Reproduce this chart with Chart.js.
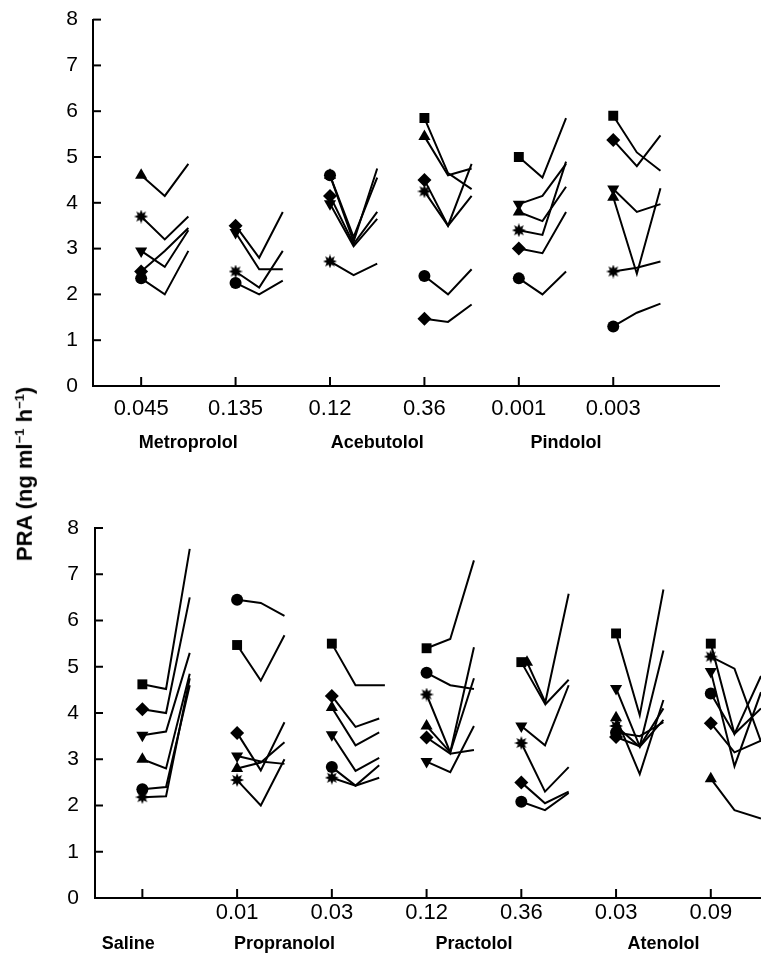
<!DOCTYPE html>
<html lang="en">
<head>
  <meta charset="UTF-8">
  <title>PRA after beta-blockers</title>
  <script src="https://cdn.jsdelivr.net/npm/chart.js"></script>
  <style>
    body {
      margin: 0;
      background: #fff;
      font-family: 'Liberation Sans', Arial, sans-serif;
    }
    .panel {
      position: absolute;
      left: 0;
      width: 761px;
    }
    #topPanel { top: 0; height: 470px; }
    #bottomPanel { top: 480px; height: 474px; }
    .ytitle {
      position: absolute;
      left: 25px;
      top: 474px;
      transform: translate(-50%, -50%) rotate(-90deg);
      white-space: nowrap;
      font-size: 22px;
      font-weight: bold;
      color: #000;
    }
    .ytitle sup { font-size: 13px; }
  </style>
</head>
<body>
  <div class="panel" id="topPanel"><canvas id="topChart"></canvas></div>
  <div class="panel" id="bottomPanel"><canvas id="bottomChart"></canvas></div>
  <div class="ytitle">PRA (ng ml<sup>−1</sup> h<sup>−1</sup>)</div>

  <script>
    // dose labels under each tick, and the drugs that own them
    const topDoses = ['0.045', '0.135', '0.12', '0.36', '0.001', '0.003'];
    const topDrugs = ['Metroprolol', 'Acebutolol', 'Pindolol'];
    const topDrugTicks = [[0, 1], [2, 3], [4, 5]];

    const bottomDoses = ['', '0.01', '0.03', '0.12', '0.36', '0.03', '0.09'];
    const bottomDrugs = ['Saline', 'Propranolol', 'Practolol', 'Atenolol'];
    const bottomDrugTicks = [[0], [1, 2], [3, 4], [5, 6]];

    const yTicks = [0, 1, 2, 3, 4, 5, 6, 7, 8];

    // three samples after each dose
    const timeOffsets = [0, 0.25, 0.5];

    // PRA values per subject: [at dose, mid, end]
    const mtp045 = [[4.6, 4.15, 4.85], [3.7, 3.2, 3.7], [2.95, 2.6, 3.4], [2.5, 2.95, 3.45], [2.35, 2.0, 2.95]];
    const mtp045Sym = ['tri', 'star', 'inv', 'dia', 'cir'];
    const mtp135 = [[3.5, 2.8, 3.8], [3.35, 2.55, 2.55], [2.5, 2.15, 2.95], [2.25, 2.0, 2.3]];
    const mtp135Sym = ['dia', 'inv', 'star', 'cir'];
    const ace012 = [[4.6, 3.15, 4.75], [4.6, 3.25, 4.55], [4.15, 3.1, 3.8], [3.98, 3.05, 3.65], [2.72, 2.42, 2.67]];
    const ace012Sym = ['cir', 'tri', 'dia', 'inv', 'star'];
    const ace036 = [[5.85, 4.65, 4.3], [5.45, 4.6, 4.75], [4.5, 3.5, 4.85], [4.25, 3.5, 4.15], [2.4, 2.0, 2.55], [1.47, 1.4, 1.78]];
    const ace036Sym = ['sq', 'tri', 'dia', 'star', 'cir', 'dia'];
    const pin001 = [[5.0, 4.55, 5.85], [3.97, 4.15, 4.85], [3.8, 3.6, 4.35], [3.4, 3.3, 4.9], [3.0, 2.9, 3.8], [2.35, 2.0, 2.5]];
    const pin001Sym = ['sq', 'inv', 'tri', 'star', 'dia', 'cir'];
    const pin003 = [[5.9, 5.1, 4.7], [5.37, 4.8, 5.47], [4.3, 3.8, 3.97], [4.12, 2.45, 4.32], [2.5, 2.58, 2.72], [1.3, 1.6, 1.8]];
    const pin003Sym = ['sq', 'dia', 'inv', 'tri', 'star', 'cir'];

    const saline = [[4.62, 4.52, 7.55], [4.08, 4.0, 6.5], [3.52, 3.6, 5.3], [3.0, 2.8, 4.85], [2.35, 2.4, 4.6], [2.18, 2.2, 4.75]];
    const salineSym = ['sq', 'dia', 'inv', 'tri', 'cir', 'star'];
    const pro001 = [[6.45, 6.38, 6.1], [5.47, 4.7, 5.68], [3.57, 2.76, 3.8], [3.07, 2.95, 2.9], [2.8, 2.93, 3.37], [2.55, 2.0, 3.0]];
    const pro001Sym = ['cir', 'sq', 'dia', 'inv', 'tri', 'star'];
    const pro003 = [[5.5, 4.6, 4.6], [4.37, 3.7, 3.88], [4.12, 3.3, 3.58], [3.53, 2.75, 3.03], [2.83, 2.43, 2.87], [2.6, 2.43, 2.6]];
    const pro003Sym = ['sq', 'dia', 'tri', 'inv', 'cir', 'star'];
    const prac012 = [[5.4, 5.6, 7.3], [4.87, 4.6, 4.52], [4.4, 3.15, 5.42], [3.72, 3.15, 4.75], [3.47, 3.12, 3.2], [2.95, 2.72, 3.72]];
    const prac012Sym = ['sq', 'cir', 'star', 'tri', 'dia', 'inv'];
    const prac036 = [[5.1, 4.2, 6.58], [5.1, 4.2, 4.72], [3.72, 3.3, 4.6], [3.35, 2.3, 2.83], [2.5, 2.05, 2.3], [2.08, 1.9, 2.27]];
    const prac036Sym = ['sq', 'tri', 'inv', 'star', 'dia', 'cir'];
    const ate003 = [[5.72, 3.95, 6.67], [4.53, 3.28, 5.35], [3.9, 2.68, 4.28], [3.72, 3.27, 3.85], [3.58, 3.5, 3.8], [3.48, 3.28, 4.1]];
    const ate003Sym = ['sq', 'inv', 'tri', 'star', 'cir', 'dia'];
    const ate009 = [[5.5, 3.55, 4.8], [5.22, 4.96, 3.38], [4.9, 2.85, 4.45], [4.42, 3.55, 4.1], [3.78, 3.15, 3.4], [2.58, 1.9, 1.72]];
    const ate009Sym = ['sq', 'star', 'inv', 'cir', 'dia', 'tri'];

    // a few traces sit slightly off the standard sample times
    const pro003Times = { 0: [0, 0.25, 0.56] };
    const prac036Times = { 1: [0.06, 0.26, 0.5] };
    const ate009Times = [0, 0.25, 0.53];

    const topGroups = [
      { tick: 0, rows: mtp045, sym: mtp045Sym },
      { tick: 1, rows: mtp135, sym: mtp135Sym },
      { tick: 2, rows: ace012, sym: ace012Sym },
      { tick: 3, rows: ace036, sym: ace036Sym },
      { tick: 4, rows: pin001, sym: pin001Sym },
      { tick: 5, rows: pin003, sym: pin003Sym }
    ];
    const bottomGroups = [
      { tick: 0, rows: saline, sym: salineSym },
      { tick: 1, rows: pro001, sym: pro001Sym },
      { tick: 2, rows: pro003, sym: pro003Sym, times: pro003Times },
      { tick: 3, rows: prac012, sym: prac012Sym },
      { tick: 4, rows: prac036, sym: prac036Sym, times: prac036Times },
      { tick: 5, rows: ate003, sym: ate003Sym },
      { tick: 6, rows: ate009, sym: ate009Sym, allTimes: ate009Times }
    ];

    const FONT = "'Liberation Sans', Arial, sans-serif";

    // filled 8-point star marker
    function makeStar() {
      const c = document.createElement('canvas');
      c.width = 14; c.height = 14;
      const g = c.getContext('2d');
      g.fillStyle = '#000';
      g.beginPath();
      for (let i = 0; i < 16; i++) {
        const r = i % 2 === 0 ? 7 : 3.6;
        const a = i * Math.PI / 8 - Math.PI / 2;
        const px = 7 + r * Math.cos(a), py = 7 + r * Math.sin(a);
        if (i === 0) g.moveTo(px, py); else g.lineTo(px, py);
      }
      g.closePath();
      g.fill();
      return c;
    }
    const starImg = makeStar();

    const markers = {
      cir: { style: 'circle', r: 6, rot: 0 },
      sq: { style: 'rect', r: 7, rot: 0 },
      dia: { style: 'rectRot', r: 7, rot: 0 },
      tri: { style: 'triangle', r: 7, rot: 0 },
      inv: { style: 'triangle', r: 7, rot: 180 },
      star: { style: starImg, r: 7, rot: 0 }
    };

    function buildDatasets(groups) {
      const out = [];
      groups.forEach(g => {
        g.rows.forEach((vals, r) => {
          const times = (g.times && g.times[r]) || g.allTimes || timeOffsets;
          const m = markers[g.sym[r]];
          out.push({
            data: vals.map((v, k) => ({ x: g.tick + times[k], y: v })),
            borderColor: '#000',
            borderWidth: 2,
            tension: 0,
            pointStyle: m.style,
            pointRotation: m.rot,
            pointRadius: [m.r, 0, 0],
            pointHoverRadius: 0,
            pointBackgroundColor: '#000',
            pointBorderColor: '#000',
            pointBorderWidth: 0
          });
        });
      });
      return out;
    }

    // inward tick marks, dose labels and drug names
    const axisDecor = {
      id: 'axisDecor',
      afterDraw(chart, args, opts) {
        const { ctx, chartArea } = chart;
        const x = chart.scales.x, y = chart.scales.y;
        ctx.save();
        ctx.strokeStyle = '#000';
        ctx.lineWidth = 2;
        yTicks.forEach(v => {
          const py = y.getPixelForValue(v);
          ctx.beginPath();
          ctx.moveTo(chartArea.left, py);
          ctx.lineTo(chartArea.left + 8, py);
          ctx.stroke();
        });
        opts.doses.forEach((d, i) => {
          const px = x.getPixelForValue(i);
          ctx.beginPath();
          ctx.moveTo(px, chartArea.bottom);
          ctx.lineTo(px, chartArea.bottom - 9);
          ctx.stroke();
        });
        ctx.fillStyle = '#000';
        ctx.textAlign = 'center';
        ctx.textBaseline = 'middle';
        ctx.font = '22px ' + FONT;
        opts.doses.forEach((d, i) => {
          if (d) ctx.fillText(d, x.getPixelForValue(i), chartArea.bottom + opts.doseGap);
        });
        ctx.font = 'bold 18px ' + FONT;
        opts.drugs.forEach((name, i) => {
          const ticks = opts.drugTicks[i];
          const mid = ticks.reduce((a, b) => a + b, 0) / ticks.length;
          const nudge = opts.drugNudge ? opts.drugNudge[i] : 0;
          ctx.fillText(name, x.getPixelForValue(mid) + nudge, chartArea.bottom + opts.drugGap);
        });
        ctx.restore();
      }
    };

    function makeChart(id, groups, cfg) {
      return new Chart(document.getElementById(id), {
        type: 'line',
        data: { datasets: buildDatasets(groups) },
        plugins: [axisDecor],
        options: {
          responsive: true,
          maintainAspectRatio: false,
          animation: false,
          events: [],
          layout: {
            autoPadding: false,
            padding: { top: cfg.padTop, right: cfg.padRight, left: 0, bottom: 0 }
          },
          plugins: {
            legend: { display: false },
            tooltip: { enabled: false },
            axisDecor: {
              doses: cfg.doses,
              drugs: cfg.drugs,
              drugTicks: cfg.drugTicks,
              drugNudge: cfg.drugNudge,
              doseGap: cfg.doseGap,
              drugGap: cfg.drugGap
            }
          },
          scales: {
            x: {
              type: 'linear',
              min: cfg.xMin,
              max: cfg.xMax,
              grid: { display: false },
              border: { display: true, color: '#000', width: 2 },
              ticks: { display: false },
              afterFit(s) { s.height = cfg.xHeight; }
            },
            y: {
              min: 0,
              max: 8,
              grid: { display: false },
              border: { display: true, color: '#000', width: 2 },
              ticks: {
                stepSize: 1,
                color: '#000',
                padding: cfg.yPad,
                font: { size: 21, family: FONT }
              },
              afterFit(s) { s.width = cfg.yWidth; }
            }
          }
        }
      });
    }

    makeChart('topChart', topGroups, {
      doses: topDoses, drugs: topDrugs, drugTicks: topDrugTicks,
      padTop: 15, padRight: 42, xMin: -0.51, xMax: 6.12,
      xHeight: 84, yWidth: 93, yPad: 7, doseGap: 23, drugGap: 57
    });

    makeChart('bottomChart', bottomGroups, {
      doses: bottomDoses, drugs: bottomDrugs, drugTicks: bottomDrugTicks,
      drugNudge: [-14, 0, 0, 0],
      padTop: 48, padRight: 0, xMin: -0.5, xMax: 6.53,
      xHeight: 56, yWidth: 95, yPad: 8, doseGap: 15, drugGap: 46
    });
  </script>
</body>
</html>
